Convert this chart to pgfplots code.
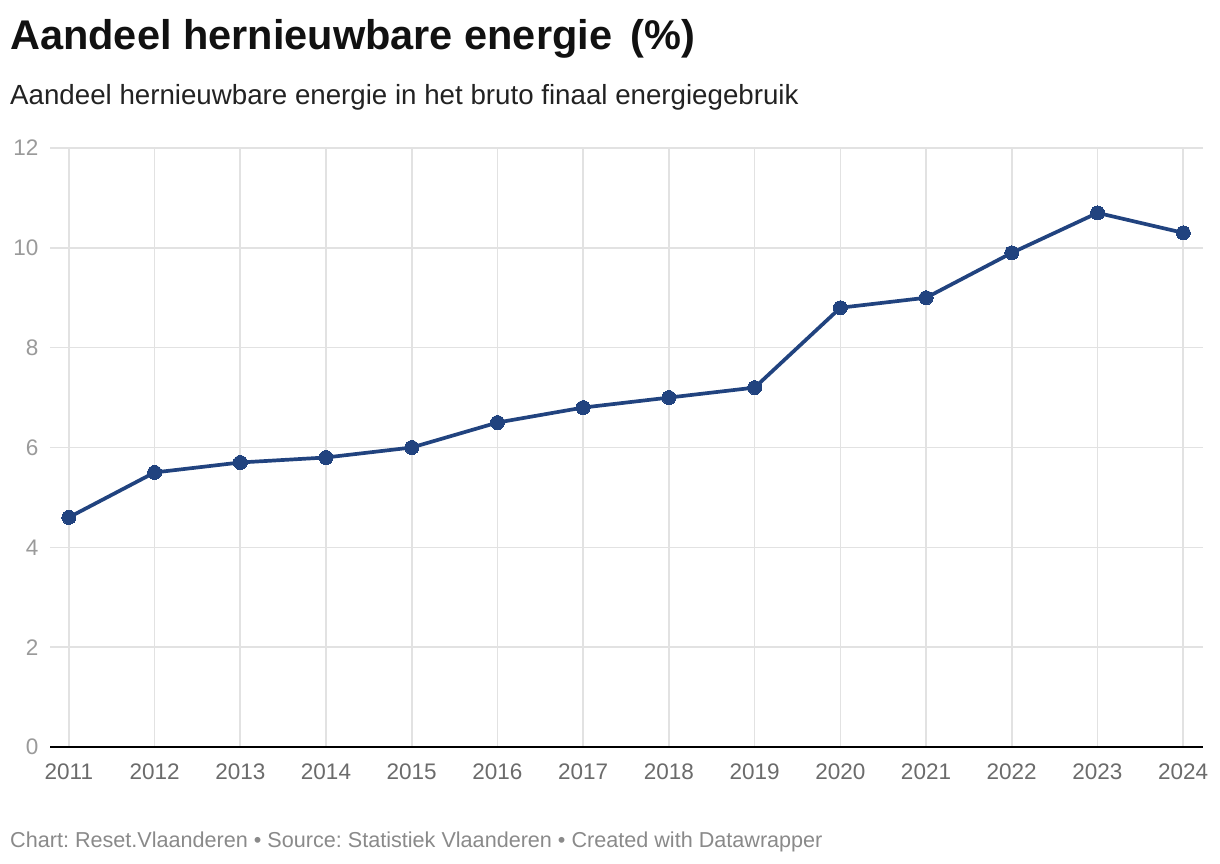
\documentclass[border=0pt]{standalone}
\usepackage{fontspec}
\setmainfont{Liberation Sans}
\usepackage{pgfplots}
\pgfplotsset{compat=1.18}
\definecolor{lineblue}{HTML}{21437F}
\definecolor{gridgray}{HTML}{E2E2E2}
\definecolor{ylab}{HTML}{9A9A9A}
\definecolor{xlab}{HTML}{6B6B6B}
\definecolor{foot}{HTML}{8A8A8A}
\definecolor{titlec}{HTML}{111111}
\definecolor{subc}{HTML}{222222}
\frenchspacing
\begin{document}
\begin{tikzpicture}
\path[use as bounding box, fill=white] (0pt,0pt) rectangle (1220pt,864pt);
\node[anchor=base west, inner sep=0, text=titlec, font=\fontsize{41.5}{46}\selectfont\bfseries] at (10pt,814pt) {Aandeel hernieuwbare energie\hspace{0.45em}(\%)};
\node[anchor=base west, inner sep=0, text=subc, font=\fontsize{27.7}{32}\selectfont] at (10pt,759pt) {Aandeel hernieuwbare energie in het bruto finaal energiegebruik};
\node[anchor=base west, inner sep=0, text=foot, font=\fontsize{21.6}{24}\selectfont] at (10pt,16pt) {Chart: Reset.Vlaanderen • Source: Statistiek Vlaanderen • Created with Datawrapper};
\begin{axis}[
  at={(50pt,117pt)}, anchor=south west,
  scale only axis, width=1153pt, height=599pt,
  xmin=2010.78, xmax=2024.23, ymin=0, ymax=12,
  xtick={2011,2012,...,2024}, ytick={0,2,...,12},
  axis line style={draw=none},
  major tick length=0pt,
  grid=major,
  grid style={gridgray, line width=1.6pt},
  /pgf/number format/assume math mode=true,
  xticklabel style={/pgf/number format/1000 sep={}, text=xlab, font=\fontsize{22.5}{24}\selectfont, yshift=-13pt},
  yticklabel style={text=ylab, font=\fontsize{22.5}{24}\selectfont, xshift=-8pt},
  extra y ticks={0},
  extra y tick labels={},
  extra y tick style={grid style={black, line width=2.6pt}},
  clip=false,
]
\addplot[lineblue, line width=3.7pt, mark=*, mark size=7pt, mark options={fill=lineblue, draw=lineblue, line width=0pt}] coordinates {
(2011,4.6) (2012,5.5) (2013,5.7) (2014,5.8) (2015,6.0) (2016,6.5) (2017,6.8)
(2018,7.0) (2019,7.2) (2020,8.8) (2021,9.0) (2022,9.9) (2023,10.7) (2024,10.3)
};
\end{axis}
\end{tikzpicture}
\end{document}
